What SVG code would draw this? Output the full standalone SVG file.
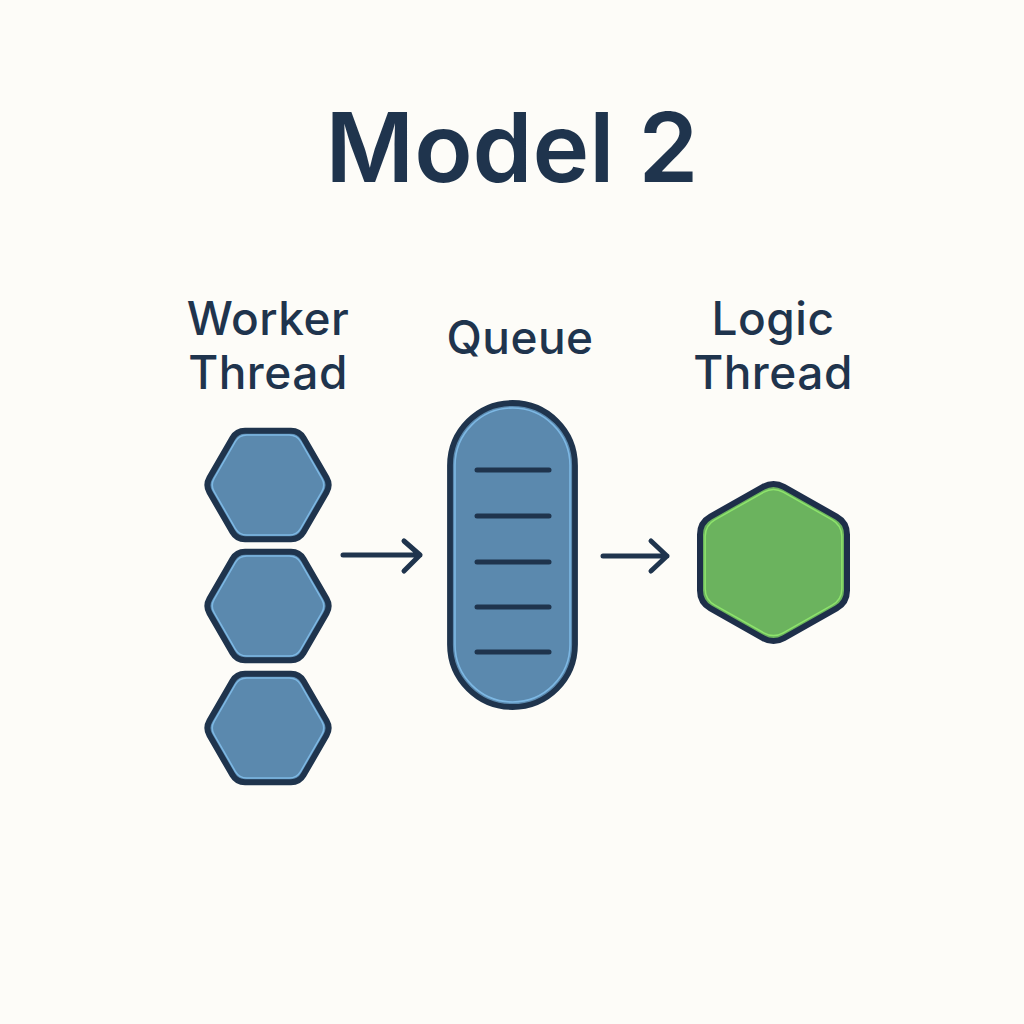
<svg xmlns="http://www.w3.org/2000/svg" width="1024" height="1024" viewBox="0 0 1024 1024">
  <defs>
    <style>
      .title { font-family: Inter, "Open Sans", "Liberation Sans", sans-serif; font-weight: 600; font-size: 96px; fill: #1f344d; }
      .label { font-family: Inter, "Open Sans", "Liberation Sans", sans-serif; font-weight: 500; font-size: 46px; letter-spacing: 0.5px; fill: #1f344d; }
      .blue { fill: #5b89ae; stroke: #1f344d; stroke-width: 5.8; stroke-linejoin: round; }
      .blueHi { fill: none; stroke: #7db8e4; stroke-width: 1.6; stroke-linejoin: round; }
      .green { fill: #6bb35e; stroke: #1e2f4a; stroke-width: 6; stroke-linejoin: round; }
      .greenHi { fill: none; stroke: #8ee46c; stroke-width: 1.6; stroke-linejoin: round; }
      .slot { stroke: #1f344d; stroke-width: 5; stroke-linecap: round; }
      .conn { fill: none; stroke: #1f344d; stroke-width: 5; stroke-linecap: round; stroke-linejoin: round; }
    </style>
    <path id="hexFlat" d="M-56,-6.93 Q-60,0 -56,6.93 L-34,45.07 Q-30,52 -22,52 L22,52 Q30,52 34,45.07 L56,6.93 Q60,0 56,-6.93 L34,-45.07 Q30,-52 22,-52 L-22,-52 Q-30,-52 -34,-45.07 Z"/>
    <path id="hexPointy" d="M-10.45,-75.6 Q0,-81.5 10.45,-75.6 L63.05,-45.9 Q73.5,-40 73.5,-28 L73.5,28 Q73.5,40 63.05,45.9 L10.45,75.6 Q0,81.5 -10.45,75.6 L-63.05,45.9 Q-73.5,40 -73.5,28 L-73.5,-28 Q-73.5,-40 -63.05,-45.9 Z"/>
  </defs>
  <rect width="1024" height="1024" fill="#fdfcf8"/>

  <text class="title" x="512" y="182" text-anchor="middle">Model 2</text>

  <g id="worker-thread">
    <text class="label" x="268" y="335" text-anchor="middle">Worker</text>
    <text class="label" x="268" y="389" text-anchor="middle">Thread</text>
    <g transform="translate(268,485) scale(1.045)"><use href="#hexFlat" class="blue"/><use href="#hexFlat" class="blueHi" transform="scale(0.92)"/></g>
    <g transform="translate(268,606) scale(1.045)"><use href="#hexFlat" class="blue"/><use href="#hexFlat" class="blueHi" transform="scale(0.92)"/></g>
    <g transform="translate(268,728) scale(1.045)"><use href="#hexFlat" class="blue"/><use href="#hexFlat" class="blueHi" transform="scale(0.92)"/></g>
  </g>

  <g id="queue">
    <text class="label" x="520" y="354" text-anchor="middle">Queue</text>
    <rect class="blue" x="450" y="403" width="125" height="304" rx="62.5"/>
    <rect class="blueHi" x="455" y="408" width="115" height="294" rx="57.5"/>
    <line class="slot" x1="477" y1="470" x2="549" y2="470"/>
    <line class="slot" x1="477" y1="516" x2="549" y2="516"/>
    <line class="slot" x1="477" y1="562" x2="549" y2="562"/>
    <line class="slot" x1="477" y1="607" x2="549" y2="607"/>
    <line class="slot" x1="477" y1="652" x2="549" y2="652"/>
  </g>

  <g id="logic-thread">
    <text class="label" x="773" y="335" text-anchor="middle">Logic</text>
    <text class="label" x="773" y="389" text-anchor="middle">Thread</text>
    <g transform="translate(773.5,562.5)"><use href="#hexPointy" class="green"/><use href="#hexPointy" class="greenHi" transform="scale(0.93)"/></g>
  </g>

  <g id="connectors">
    <path class="conn" d="M343,555 H420 M404,541 L420,555 L404,571"/>
    <path class="conn" d="M603,556 H667 M651,541 L667,556 L651,571"/>
  </g>
</svg>
